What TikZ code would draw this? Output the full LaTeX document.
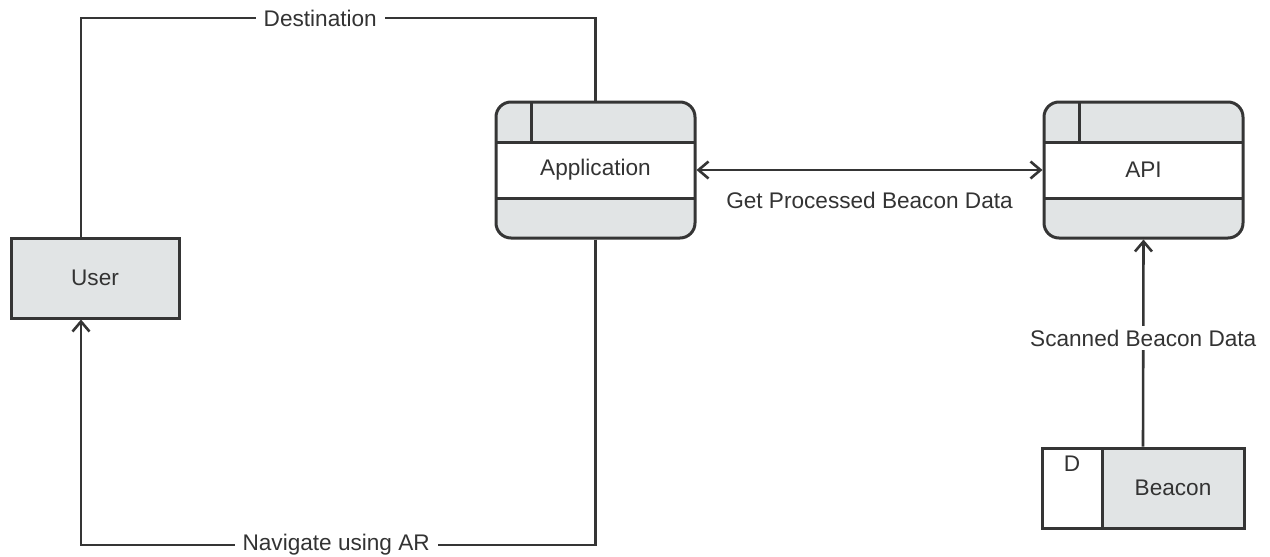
\documentclass[tikz,border=0pt]{standalone}
\usepackage{fontspec}
\setmainfont{Liberation Sans}
\usetikzlibrary{arrows.meta,positioning}

\definecolor{linecol}{HTML}{353535}
\definecolor{boxfill}{HTML}{E1E4E5}
\definecolor{txtcol}{HTML}{333333}

\tikzset{
    every node/.style={font=\fontsize{11.3}{13}\selectfont, text=txtcol},
    flow/.style={draw=linecol, line width=1.3pt, -{Straight Barb[length=5pt,width=8.5pt]}},
    plain/.style={draw=linecol, line width=1.3pt},
    flowlabel/.style={fill=white, inner xsep=4pt, inner ysep=2pt},
    entity/.style={draw=linecol, fill=boxfill, line width=1.5pt,
        minimum width=84pt, minimum height=40pt},
    process/.style={draw=linecol, fill=boxfill, line width=1.5pt,
        rounded corners=7.5pt, minimum width=99.5pt, minimum height=68pt,
        path picture={
            \fill[white, sharp corners]
                ([yshift=-20.25pt]path picture bounding box.north west) rectangle
                ([yshift=20pt]path picture bounding box.south east);
            \draw[linecol, line width=1.5pt, sharp corners]
                ([yshift=-20.25pt]path picture bounding box.north west) --
                ([yshift=-20.25pt]path picture bounding box.north east)
                ([yshift=20pt]path picture bounding box.south west) --
                ([yshift=20pt]path picture bounding box.south east)
                ([xshift=17.5pt]path picture bounding box.north west) --
                ([xshift=17.5pt,yshift=-20.25pt]path picture bounding box.north west);
        }},
    store/.style={draw=linecol, fill=boxfill, line width=1.5pt,
        minimum width=71pt, minimum height=40pt},
    storeid/.style={draw=linecol, fill=white, line width=1.5pt,
        minimum width=30pt, minimum height=40pt},
}

\begin{document}
\begin{tikzpicture}[x=0.5pt, y=-0.5pt]
    \useasboundingbox (0,0) rectangle (1270,557);

    \node[process] (app) at (595.5,170) {Application};
    \node[process] (api) at (1143.5,170) {API};
    \node[entity] (user) at (95,278) {User};
    \node[store] (beacon) at (1173,488) {Beacon};
    \node[storeid, left=-1.5pt of beacon,
        label={[name=beaconkey, anchor=north, yshift=-1pt]north:D}] (beaconid) {};

    \draw[plain] (app.north) -- (app.north |- 0,18)
        -- node[flowlabel, pos=0.535] (dest) {Destination}
        ([xshift=-7pt]user.north |- 0,18) -- ([xshift=-7pt]user.north);

    \draw[flow] (app.south) -- (app.south |- 0,545)
        -- node[flowlabel, pos=0.504] (nav) {Navigate using AR}
        ([xshift=-7pt]user.south |- 0,545) -- ([xshift=-7pt]user.south);

    \draw[flow, {Straight Barb[length=5pt,width=8.5pt]}-{Straight Barb[length=5pt,width=8.5pt]}]
        (app) -- node[below=7pt] (get) {Get Processed Beacon Data} (api);

    \draw[flow] ([xshift=-15pt]beacon.north)
        -- node[flowlabel, pos=0.524] (scan) {Scanned Beacon Data} (api.south);
\end{tikzpicture}
\end{document}
